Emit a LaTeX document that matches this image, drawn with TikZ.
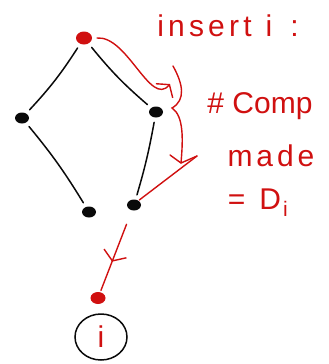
\documentclass[tikz,border=0pt]{standalone}
\usepackage{fontspec}
\setmainfont{Liberation Sans}
\usetikzlibrary{arrows.meta,decorations.markings,shapes.geometric}
\definecolor{inkRed}{RGB}{208,16,16}
\definecolor{inkBlack}{RGB}{10,10,10}

\begin{document}
\begin{tikzpicture}[x=1pt,y=-1pt,line cap=round,
    dot/.style={ellipse,fill=inkBlack,minimum width=14pt,minimum height=11pt,
                inner sep=0pt,outer sep=5pt},
    newdot/.style={dot,fill=inkRed},
    edge/.style={inkBlack,line width=1.5pt},
    redline/.style={inkRed,line width=1.4pt},
    barb/.style={-{Straight Barb[length=8pt,width=22pt]}},
    midbarb/.style={postaction={decorate},decoration={markings,
        mark=at position 0.62 with {\arrow{Straight Barb[length=8pt,width=24pt]}}}},
    note/.style={text=inkRed,font=\fontsize{30}{34}\selectfont,inner sep=0pt}]
  \useasboundingbox (0,0) rectangle (329,364);
  % heap
  \node[newdot,minimum width=16pt,minimum height=13pt] (root) at (84,38) {};
  \node[dot] (l)  at (22,118) {};
  \node[dot] (r)  at (156,112) {};
  \node[dot] (ll) at (89,212) {};
  \node[dot] (rr) at (134,205) {};
  \draw[edge] (root) to[bend left=5] (l);
  \draw[edge] (root) to[bend right=5] (r);
  \draw[edge] (l) to[bend left=4] (ll);
  \draw[edge] (r) to[bend left=3] (rr);
  % new leaf
  \node[newdot,minimum width=15pt,minimum height=12pt,outer sep=2pt] (new) at (98,298) {};
  \node[ellipse,draw=inkBlack,line width=1.5pt,minimum width=52pt,minimum height=46pt,
        inner sep=0pt,text=inkRed,font=\fontsize{30}{34}\selectfont] (key) at (101,337) {i};
  \draw[redline,midbarb,shorten <=10pt] (rr) -- (new);
  % comparisons
  \coordinate (c1) at (170,84);
  \coordinate (b0) at (173,66);
  \coordinate (b1) at (172,108);
  \coordinate (b2) at (181,163);
  \coordinate (b3) at (197,156);
  \draw[redline,barb] (root.east) to[out=5,in=-130,looseness=0.9] (c1);
  \draw[redline] (b0) .. controls (183,84) and (186,100) .. (b1)
                      .. controls (184,116) and (183,140) .. (b2);
  \draw[redline] (b2) -- ++(-11,-8) (b2) -- (b3);
  \draw[redline,shorten >=-4pt] (b3) -- (rr.north east);
  % notes
  \node[note] (ins) at (228,26)
    {{\addfontfeature{LetterSpace=14}insert}\hspace{14pt}i\hspace{18pt}:};
  \node[note] (comp) at (260,106) {\# Comp};
  \node[note] (made) at (271,156) {\addfontfeature{LetterSpace=13}made};
  \node[note] (eq) at (258,203) {=\hspace{14pt}D\hspace{2pt}\textsubscript{i}};
\end{tikzpicture}
\end{document}
